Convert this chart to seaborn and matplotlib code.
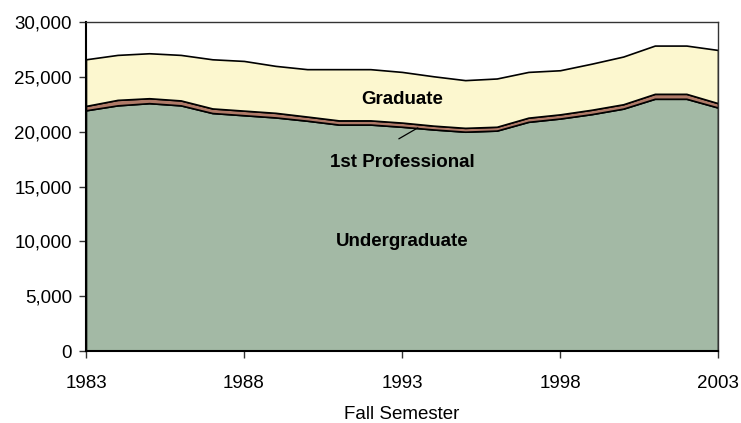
import numpy as np
import matplotlib
matplotlib.use("Agg")
import matplotlib.pyplot as plt
import seaborn as sns
from matplotlib.ticker import FuncFormatter

years = list(range(1983, 2004))
undergraduate = [21950, 22400, 22600, 22400, 21700, 21500, 21300, 21000, 20650, 20650,
                 20450, 20200, 20000, 20100, 20900, 21200, 21600, 22100, 23000, 23000, 22200]
first_professional = [400, 500, 450, 450, 420, 420, 420, 380, 380, 380,
                      380, 350, 350, 350, 380, 380, 400, 400, 450, 450, 400]
total = [26600, 27000, 27150, 27000, 26600, 26450, 26000, 25700, 25700, 25700,
         25450, 25050, 24700, 24850, 25450, 25600, 26200, 26850, 27850, 27850, 27450]
graduate = [t - u - p for t, u, p in zip(total, undergraduate, first_professional)]

colors = ["#A3B9A5", "#B07A68", "#FCF7CF"]

sns.set_theme(style="white")
plt.rcParams["font.family"] = ["Liberation Sans", "DejaVu Sans"]

fig = plt.figure(figsize=(7.41, 4.23), dpi=100)
ax = fig.add_axes([0.116, 0.170, 0.853, 0.778])

ax.stackplot(years, undergraduate, first_professional, graduate,
             colors=colors, edgecolor="black", linewidth=1.2)

ax.set_xlim(1983, 2003)
ax.set_ylim(0, 30000)
ax.set_xticks([1983, 1988, 1993, 1998, 2003])
ax.set_yticks(range(0, 30001, 5000))
ax.yaxis.set_major_formatter(FuncFormatter(lambda v, p: f"{int(v):,}"))
ax.tick_params(axis="both", direction="out", length=5, width=1, color="#333333",
               labelsize=13.5, labelcolor="black", bottom=True, left=True)
ax.tick_params(axis="y", pad=5)
ax.tick_params(axis="x", pad=12)

for side in ["left", "bottom"]:
    ax.spines[side].set_color("black")
    ax.spines[side].set_linewidth(1.5)
for side in ["top", "right"]:
    ax.spines[side].set_color("#333333")
    ax.spines[side].set_linewidth(1.0)

ax.set_xlabel("Fall Semester", fontsize=13.5, color="black", labelpad=10)
ax.set_ylabel("")

ax.text(1993.0, 22900, "Graduate", fontsize=13.5, fontweight="bold", color="black",
        ha="center", va="center")
ax.text(1993.0, 17150, "1st Professional", fontsize=13.5, fontweight="bold", color="black",
        ha="center", va="center")
ax.text(1993.0, 9950, "Undergraduate", fontsize=13.5, fontweight="bold", color="black",
        ha="center", va="center")
ax.plot([1992.9, 1993.5], [19350, 20350], color="black", linewidth=0.9)

fig.savefig("out.png", dpi=100)
